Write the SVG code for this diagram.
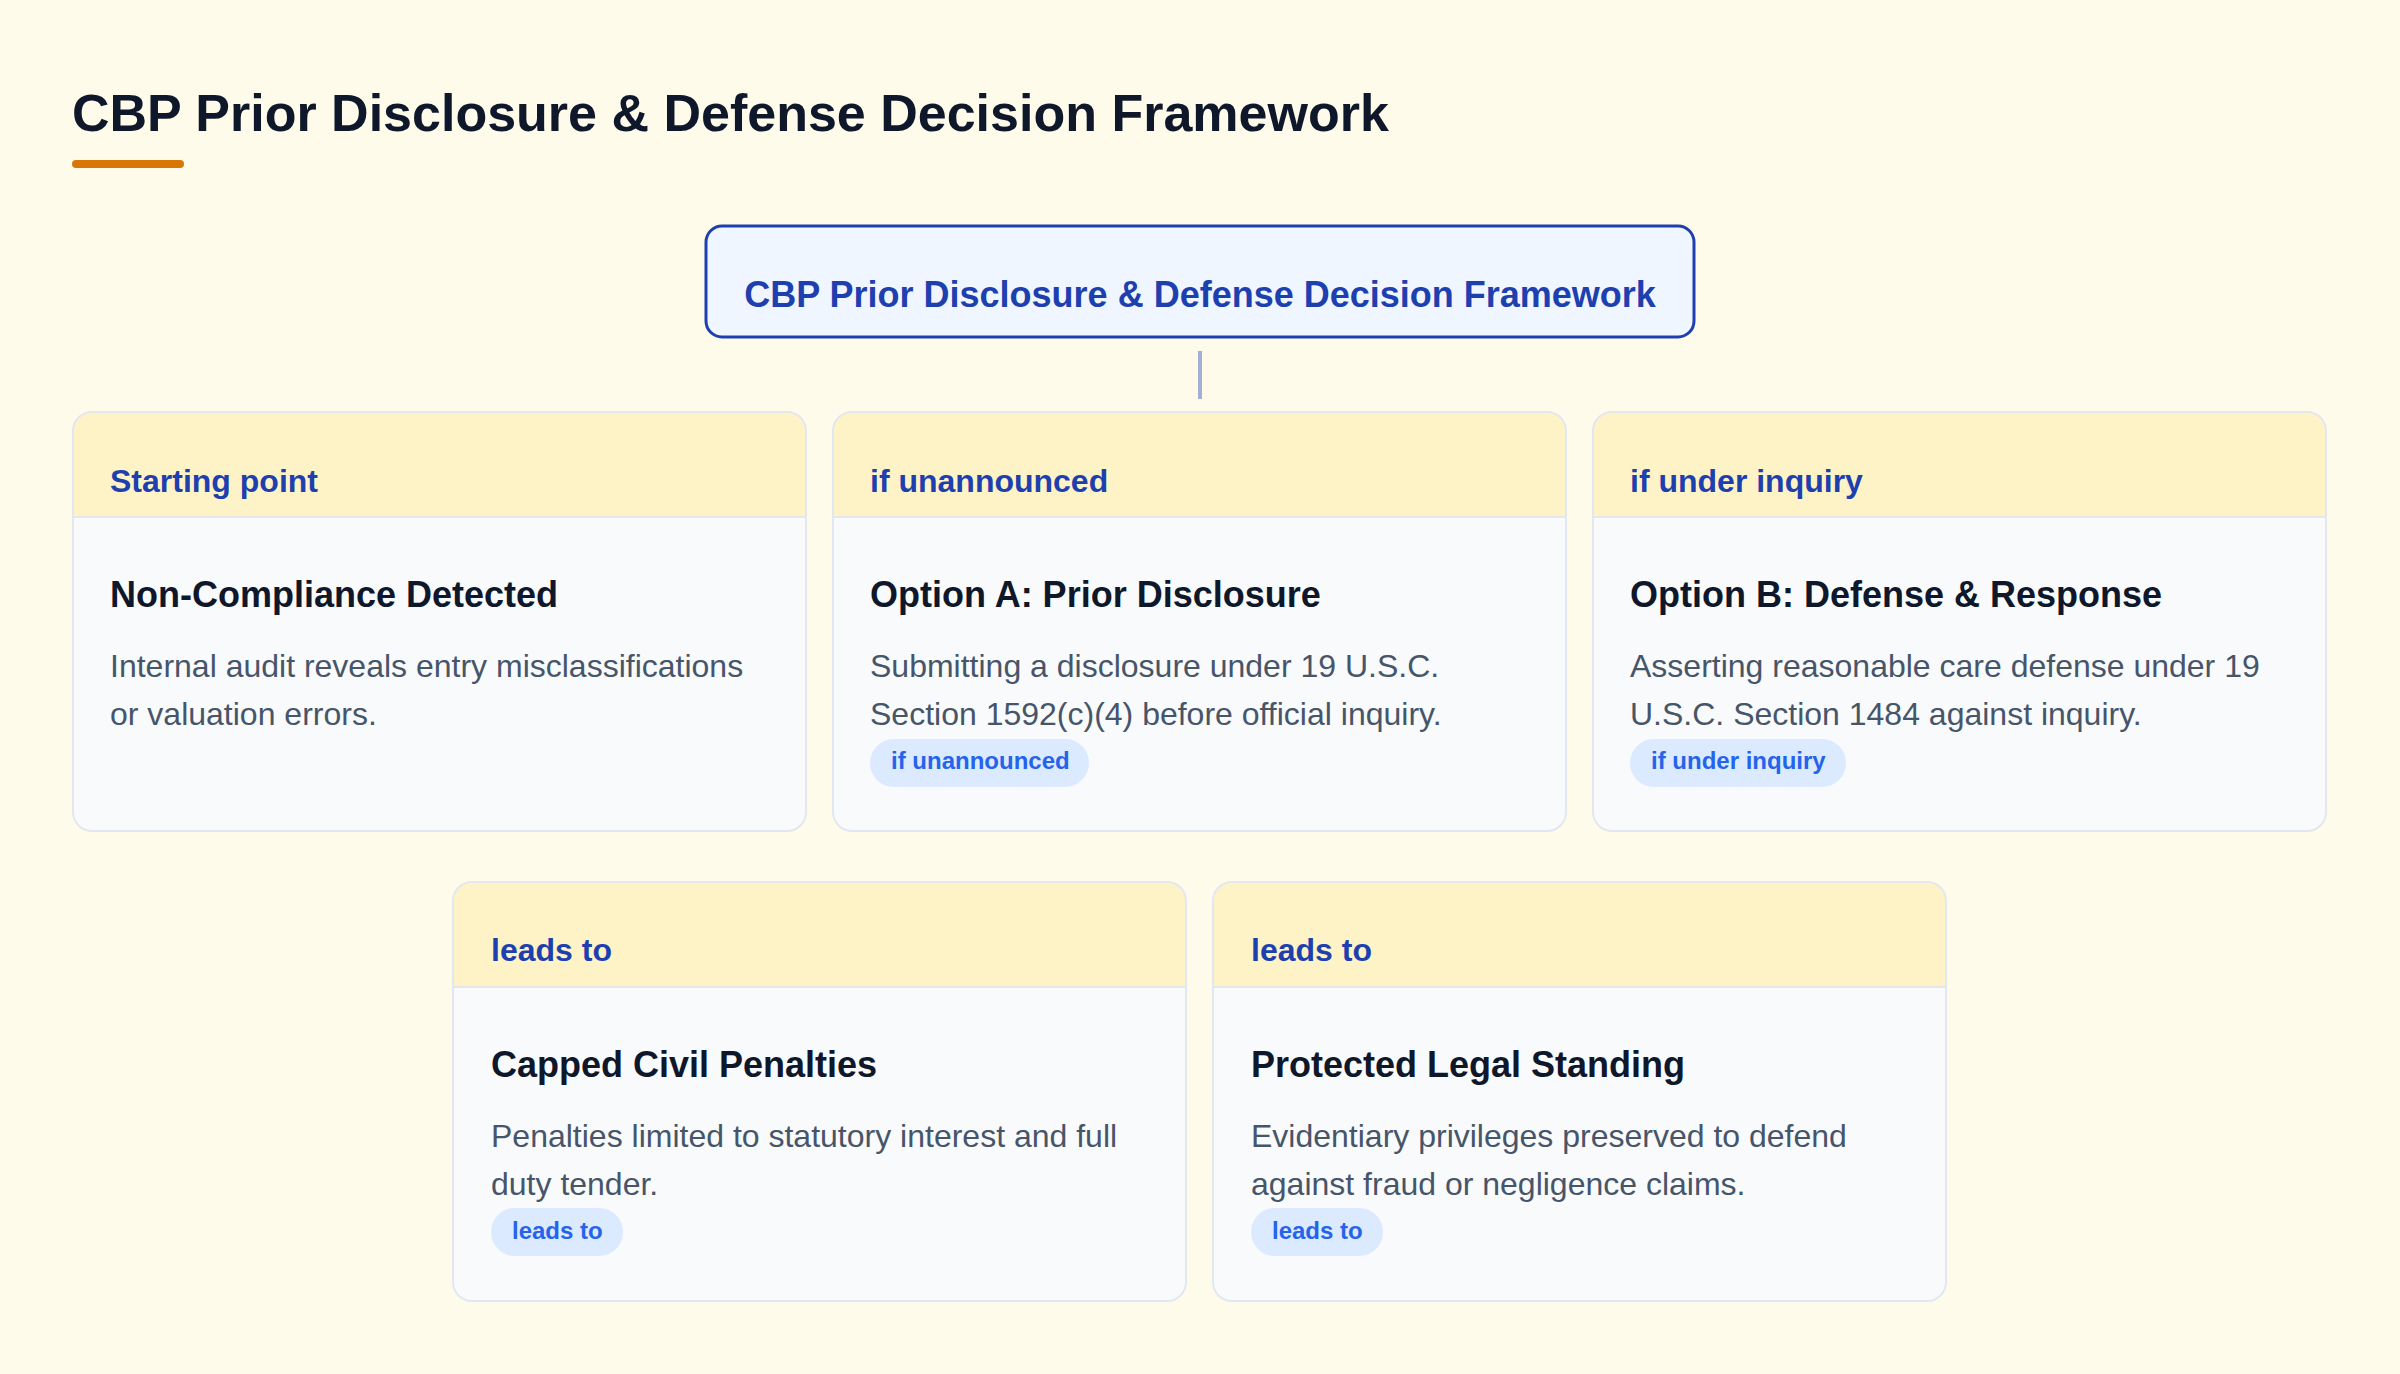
<svg xmlns="http://www.w3.org/2000/svg" width="2400" height="1374" viewBox="0 0 2400 1374">
<defs>
<style>
text{font-family:"Liberation Sans",Arial,Helvetica,sans-serif}
.card{fill:#f8fafc}
.cardb{fill:none;stroke:#e2e8f0;stroke-width:2}
.hdr{fill:#fef3c7}
.sep{stroke:#e5e7eb;stroke-width:2}
.htxt{font-size:32px;font-weight:700;fill:#1e40af}
.ttl{font-size:36px;font-weight:700;fill:#0f172a}
.desc{font-size:32px;fill:#475569}
.pill{fill:#dbeafe}
.ptxt{font-size:24px;font-weight:700;fill:#2563eb}
</style>
</defs>
<rect width="2400" height="1374" fill="#fefbea"/>
<g id="title">
<text x="72" y="131" font-size="52" font-weight="700" fill="#0f172a">CBP Prior Disclosure &amp; Defense Decision Framework</text>
<rect x="72" y="160" width="112" height="8" rx="4" fill="#d97706"/>
</g>
<g id="connectors">
<line x1="1200" y1="351" x2="1200" y2="399" stroke="#1e40af" stroke-opacity="0.4" stroke-width="4"/>
</g>
<g id="root">
<rect x="706" y="226" width="988" height="111" rx="16" fill="#eff6ff" stroke="#1e40af" stroke-width="3"/>
<text x="1200" y="307" text-anchor="middle" font-size="36" font-weight="700" fill="#1e40af">CBP Prior Disclosure &amp; Defense Decision Framework</text>
</g>
<g id="n1" transform="translate(73,412)">
<rect class="card" width="733" height="419" rx="19"/>
<path class="hdr" d="M0 105V19A19 19 0 0 1 19 0H714A19 19 0 0 1 733 19V105Z"/>
<line class="sep" x1="0" y1="105" x2="733" y2="105"/>
<rect class="cardb" width="733" height="419" rx="19"/>
<text class="htxt" x="37" y="80">Starting point</text>
<text class="ttl" x="37" y="195">Non-Compliance Detected</text>
<text class="desc" x="37" y="265">Internal audit reveals entry misclassifications</text>
<text class="desc" x="37" y="313">or valuation errors.</text>
</g>
<g id="n2" transform="translate(833,412)">
<rect class="card" width="733" height="419" rx="19"/>
<path class="hdr" d="M0 105V19A19 19 0 0 1 19 0H714A19 19 0 0 1 733 19V105Z"/>
<line class="sep" x1="0" y1="105" x2="733" y2="105"/>
<rect class="cardb" width="733" height="419" rx="19"/>
<text class="htxt" x="37" y="80">if unannounced</text>
<text class="ttl" x="37" y="195">Option A: Prior Disclosure</text>
<text class="desc" x="37" y="265">Submitting a disclosure under 19 U.S.C.</text>
<text class="desc" x="37" y="313">Section 1592(c)(4) before official inquiry.</text>
<rect class="pill" x="37" y="327" width="219" height="48" rx="24"/>
<text class="ptxt" x="58" y="357">if unannounced</text>
</g>
<g id="n3" transform="translate(1593,412)">
<rect class="card" width="733" height="419" rx="19"/>
<path class="hdr" d="M0 105V19A19 19 0 0 1 19 0H714A19 19 0 0 1 733 19V105Z"/>
<line class="sep" x1="0" y1="105" x2="733" y2="105"/>
<rect class="cardb" width="733" height="419" rx="19"/>
<text class="htxt" x="37" y="80">if under inquiry</text>
<text class="ttl" x="37" y="195">Option B: Defense &amp; Response</text>
<text class="desc" x="37" y="265">Asserting reasonable care defense under 19</text>
<text class="desc" x="37" y="313">U.S.C. Section 1484 against inquiry.</text>
<rect class="pill" x="37" y="327" width="216" height="48" rx="24"/>
<text class="ptxt" x="58" y="357">if under inquiry</text>
</g>
<g id="n4" transform="translate(453,882)">
<rect class="card" width="733" height="419" rx="19"/>
<path class="hdr" d="M0 105V19A19 19 0 0 1 19 0H714A19 19 0 0 1 733 19V105Z"/>
<line class="sep" x1="0" y1="105" x2="733" y2="105"/>
<rect class="cardb" width="733" height="419" rx="19"/>
<text class="htxt" x="38" y="79">leads to</text>
<text class="ttl" x="38" y="195">Capped Civil Penalties</text>
<text class="desc" x="38" y="265">Penalties limited to statutory interest and full</text>
<text class="desc" x="38" y="313">duty tender.</text>
<rect class="pill" x="38" y="326" width="132" height="48" rx="24"/>
<text class="ptxt" x="59" y="357">leads to</text>
</g>
<g id="n5" transform="translate(1213,882)">
<rect class="card" width="733" height="419" rx="19"/>
<path class="hdr" d="M0 105V19A19 19 0 0 1 19 0H714A19 19 0 0 1 733 19V105Z"/>
<line class="sep" x1="0" y1="105" x2="733" y2="105"/>
<rect class="cardb" width="733" height="419" rx="19"/>
<text class="htxt" x="38" y="79">leads to</text>
<text class="ttl" x="38" y="195">Protected Legal Standing</text>
<text class="desc" x="38" y="265">Evidentiary privileges preserved to defend</text>
<text class="desc" x="38" y="313">against fraud or negligence claims.</text>
<rect class="pill" x="38" y="326" width="132" height="48" rx="24"/>
<text class="ptxt" x="59" y="357">leads to</text>
</g>
</svg>
